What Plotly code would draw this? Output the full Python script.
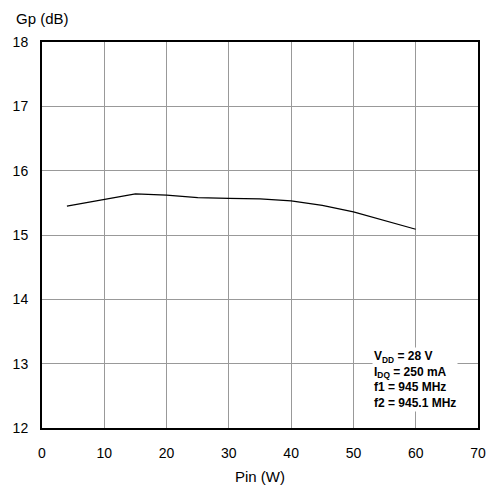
import plotly.graph_objects as go

pin_w = [4, 10, 15, 20, 25, 30, 35, 40, 45, 50, 55, 60]
gp_db = [15.45, 15.56, 15.64, 15.62, 15.58, 15.57, 15.56, 15.53, 15.46, 15.36, 15.23, 15.09]

x_ticks = [0, 10, 20, 30, 40, 50, 60, 70]
y_ticks = [12, 13, 14, 15, 16, 17, 18]

font = "Liberation Sans, Arial, sans-serif"

fig = go.Figure()
fig.add_trace(go.Scatter(x=pin_w, y=gp_db, mode="lines",
                         line=dict(color="black", width=1.2), showlegend=False))

fig.update_layout(
    width=491, height=491,
    margin=dict(l=42, r=13, t=42, b=63),
    paper_bgcolor="white", plot_bgcolor="white",
    font=dict(family=font, size=14, color="black"),
    xaxis=dict(range=[0, 70], tickvals=x_ticks, showgrid=True, gridcolor="#999999", gridwidth=1,
               showline=True, linecolor="black", linewidth=2, mirror=True, ticks="",
               zeroline=False, automargin=False, ticklabelstandoff=11,
               tickfont=dict(family=font, size=14),
               title=dict(text="Pin (W)", standoff=12, font=dict(family=font, size=15))),
    yaxis=dict(range=[12, 18], tickvals=y_ticks, showgrid=True, gridcolor="#999999", gridwidth=1,
               showline=True, linecolor="black", linewidth=2, mirror=True, ticks="",
               zeroline=False, automargin=False, ticklabelstandoff=9,
               tickfont=dict(family=font, size=14)),
    annotations=[
        dict(x=-0.065, y=1.062, xref="paper", yref="paper", xanchor="left", yanchor="middle",
             text="Gp (dB)", showarrow=False, font=dict(family=font, size=15)),
        dict(x=0.757, y=0.041, xref="paper", yref="paper", xanchor="left", yanchor="bottom",
             align="left", showarrow=False, bgcolor="white",
             text="<b>V<sub>DD</sub> = 28 V<br>I<sub>DQ</sub> = 250 mA<br>f1 = 945 MHz<br>f2 = 945.1 MHz</b>",
             font=dict(family=font, size=12)),
    ],
)
fig.write_html("out.html",
               config={"displayModeBar": False},
               post_script="document.body.style.margin='0';document.body.style.overflow='hidden';")
